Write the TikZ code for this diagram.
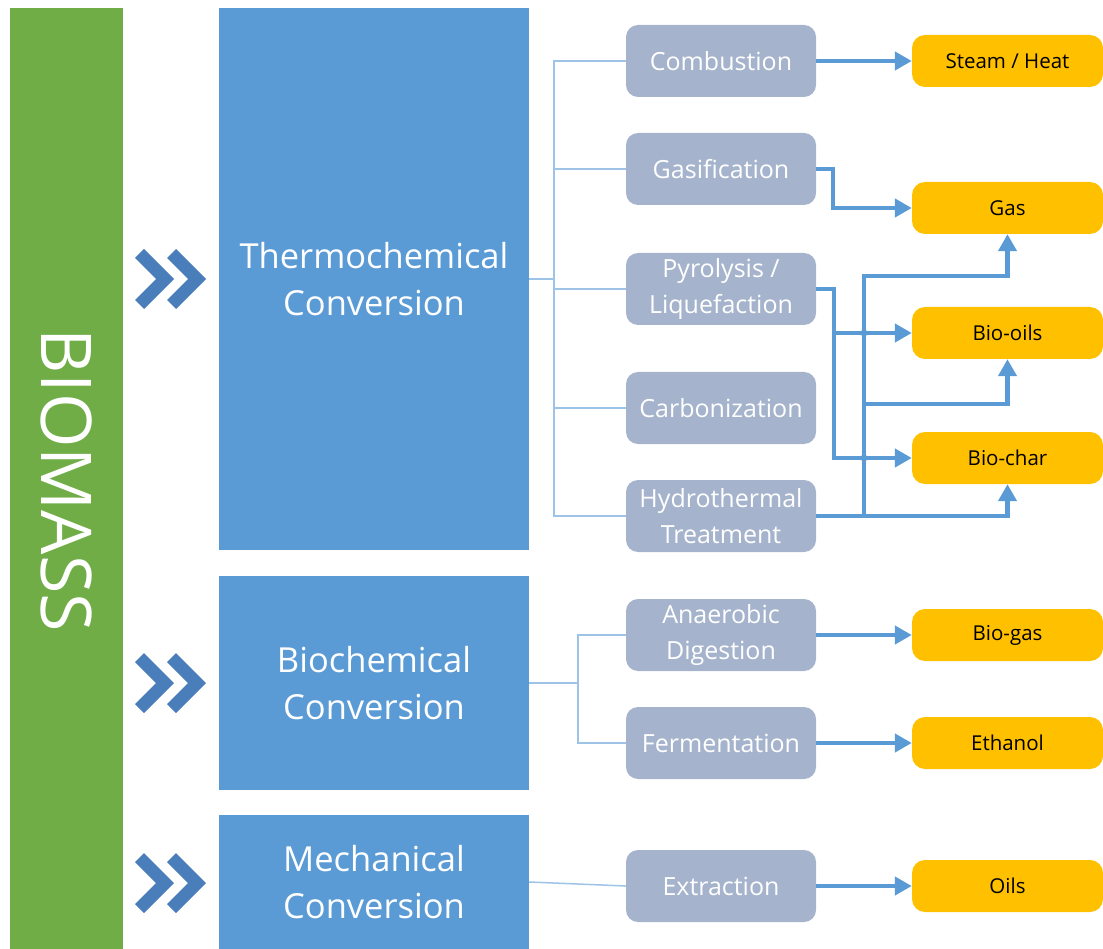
\documentclass[tikz,border=0pt]{standalone}
\usepackage{fontspec}
\setmainfont{Open Sans}
\usetikzlibrary{arrows.meta}
\definecolor{biomassgreen}{HTML}{70AD47}
\definecolor{routeblue}{HTML}{5B9BD5}
\definecolor{chevblue}{HTML}{4A7EBB}
\definecolor{procgray}{HTML}{A5B4CC}
\definecolor{productgold}{HTML}{FFC000}
\definecolor{treeblue}{HTML}{9DC3E6}
\begin{document}
\begin{tikzpicture}[x=1pt,y=-1pt,
  route/.style={fill=routeblue, text=white, inner sep=0pt, minimum width=310pt,
    align=center, font=\fontsize{34.5}{47}\selectfont},
  process/.style={fill=procgray, rounded corners=12pt, text=white, inner sep=0pt,
    minimum width=190pt, minimum height=72pt, align=center,
    font=\fontsize{25}{36}\selectfont},
  product/.style={fill=productgold, rounded corners=13pt, inner sep=0pt,
    minimum width=191pt, minimum height=52pt, font=\fontsize{20.5}{24}\selectfont},
  tree/.style={draw=treeblue, line width=1.5pt},
  flow/.style={draw=routeblue, line width=4.5pt, -{Triangle[length=17pt,width=18pt]}},
  chev/.style={fill=chevblue}
]
\useasboundingbox (0,0) rectangle (1103,949);

% feedstock bar
\node (bar) [fill=biomassgreen, inner sep=0pt, minimum width=113pt, minimum height=941pt]
  at (66.5,478.5) {};
\node (biomass) [rotate=-90, text=white, font=\fontsize{70}{70}\selectfont]
  at (67,480) {BIOMASS};

% conversion routes
\node (thermo) [route, minimum height=542pt] at (374,279) {Thermochemical\\Conversion};
\node (biochem) [route, minimum height=214pt] at (374,683) {Biochemical\\Conversion};
\node (mech) [route, minimum height=134pt] at (374,882) {Mechanical\\Conversion};

% double chevrons
\foreach \cy in {279,683,883}{
  \foreach \dx in {0,32}{
    \fill[chev] (135+\dx,\cy-21) -- (144+\dx,\cy-30) -- (174+\dx,\cy) --
      (144+\dx,\cy+30) -- (135+\dx,\cy+21) -- (156+\dx,\cy) -- cycle;
  }
}

% processes
\node (comb)  [process] at (721,61)  {Combustion};
\node (gasi)  [process] at (721,169) {Gasification};
\node (pyro)  [process] at (721,289) {Pyrolysis /\\Liquefaction};
\node (carb)  [process] at (721,408) {Carbonization};
\node (hydro) [process] at (721,516) {Hydrothermal\\Treatment};
\node (anaer) [process] at (721,635) {Anaerobic\\Digestion};
\node (ferm)  [process] at (721,743) {Fermentation};
\node (extr)  [process] at (721,886) {Extraction};

% products
\node (steam)   [product] at (1007.5,61)  {Steam / Heat};
\node (gas)     [product] at (1007.5,208) {Gas};
\node (biooils) [product] at (1007.5,333) {Bio-oils};
\node (biochar) [product] at (1007.5,458) {Bio-char};
\node (biogas)  [product] at (1007.5,635) {Bio-gas};
\node (ethanol) [product] at (1007.5,743) {Ethanol};
\node (oils)    [product] at (1007.5,886) {Oils};

% branching trees from the routes to their processes
\coordinate (tbus) at (554,0);
\draw[tree] (thermo.east) -- (tbus |- thermo.east);
\draw[tree] (comb.west) -| (tbus |- hydro.west) -- (hydro.west);
\foreach \n in {gasi,pyro,carb}{
  \draw[tree] (tbus |- \n.west) -- (\n.west);
}
\coordinate (bbus) at (578,0);
\draw[tree] (biochem.east) -- (bbus |- biochem.east);
\draw[tree] (anaer.west) -| (bbus |- ferm.west) -- (ferm.west);
\draw[tree] (mech.east) -- (extr.west);

% product flows
\draw[flow] (comb.east) -- (steam.west);
\draw[flow] (gasi.east) -- ++(17,0) |- (gas.west);
\draw[flow] (pyro.east) -- ++(18,0) |- (biochar.west);
\draw[flow] (pyro.east) ++(18,0) |- (biooils.west);
\draw[flow] (hydro.east) -| (biochar.south);
\coordinate (hbus) at (864,516);
\draw[flow] (hbus) -- ++(0,-240) -| (gas.south);
\draw[flow] (hbus) ++(0,-112) -| (biooils.south);
\fill[routeblue] (hbus |- biooils.west) circle (3.5pt) (hbus |- biochar.west) circle (3.5pt);

\draw[flow] (anaer.east) -- (biogas.west);
\draw[flow] (ferm.east) -- (ethanol.west);
\draw[flow] (extr.east) -- (oils.west);
\end{tikzpicture}
\end{document}
